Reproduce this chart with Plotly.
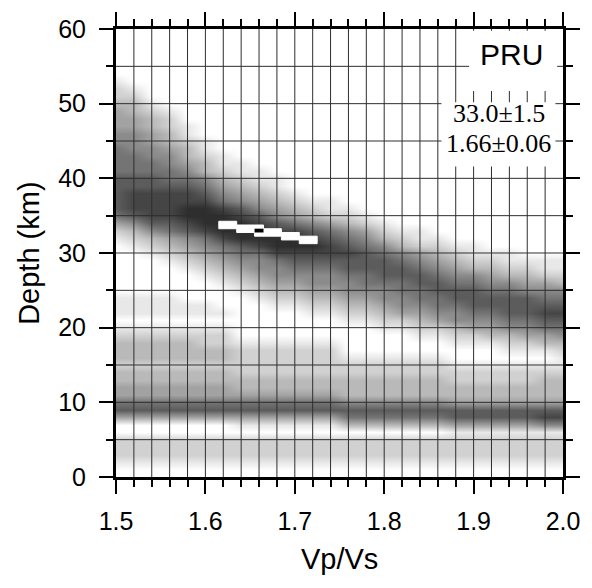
import plotly.graph_objects as go

# ---------------- data ----------------
VPVS = [1.50, 1.52, 1.54, 1.56, 1.58, 1.60, 1.62, 1.64, 1.66, 1.68, 1.70, 1.72, 1.74,
        1.76, 1.78, 1.80, 1.82, 1.84, 1.86, 1.88, 1.90, 1.92, 1.94, 1.96, 1.98, 2.00]
DEPTH_KM = list(range(0, 61))

# stack amplitude (grey level 0..9) of the main (Moho) band, one dict per Vp/Vs column: {depth: level}
MAIN_BAND = [
    {53:1,52:2,51:2,50:3,49:4,48:4,47:4,46:5,45:5,44:6,43:6,42:6,41:6,40:7,39:7,38:7,37:7,36:7,35:6,34:4,33:2,32:1},
    {52:1,51:2,50:3,49:3,48:4,47:4,46:5,45:5,44:5,43:6,42:6,41:6,40:7,39:7,38:8,37:8,36:8,35:7,34:5,33:3,32:2,31:1},
    {50:1,49:2,48:3,47:3,46:4,45:4,44:5,43:5,42:6,41:6,40:7,39:7,38:8,37:8,36:8,35:8,34:7,33:5,32:3,31:2,30:1},
    {49:1,48:2,47:2,46:3,45:3,44:4,43:5,42:5,41:6,40:6,39:7,38:8,37:8,36:8,35:8,34:7,33:6,32:4,31:3,30:2,29:1},
    {47:1,46:1,45:2,44:3,43:3,42:4,41:5,40:6,39:7,38:8,37:8,36:9,35:9,34:8,33:7,32:5,31:4,30:3,29:2,28:1},
    {45:1,44:1,43:2,42:3,41:3,40:5,39:6,38:7,37:8,36:9,35:9,34:9,33:8,32:6,31:5,30:4,29:3,28:2,27:1},
    {43:1,42:1,41:2,40:3,39:4,38:5,37:6,36:8,35:9,34:9,33:9,32:8,31:6,30:5,29:4,28:3,27:2,26:1},
    {42:1,41:1,40:2,39:3,38:4,37:5,36:7,35:8,34:9,33:9,32:9,31:7,30:6,29:5,28:4,27:3,26:2,25:1},
    {41:1,40:1,39:2,38:3,37:4,36:5,35:7,34:8,33:9,32:9,31:8,30:6,29:5,28:5,27:4,26:3,25:2,24:1},
    {40:1,39:1,38:2,37:3,36:4,35:5,34:7,33:8,32:9,31:9,30:8,29:6,28:5,27:5,26:4,25:3,24:2,23:1},
    {38:1,37:2,36:3,35:4,34:6,33:8,32:9,31:9,30:8,29:7,28:6,27:5,26:4,25:3,24:2,23:1},
    {37:1,36:2,35:3,34:5,33:7,32:8,31:9,30:8,29:7,28:6,27:5,26:5,25:4,24:3,23:2,22:1},
    {37:1,36:1,35:2,34:4,33:6,32:7,31:8,30:8,29:7,28:6,27:5,26:5,25:4,24:3,23:2,22:1},
    {36:1,35:2,34:3,33:5,32:6,31:7,30:8,29:7,28:7,27:6,26:5,25:5,24:4,23:3,22:2,21:1},
    {35:1,34:2,33:4,32:5,31:6,30:7,29:7,28:7,27:6,26:6,25:5,24:4,23:3,22:2,21:1},
    {34:1,33:2,32:3,31:5,30:6,29:7,28:7,27:7,26:6,25:5,24:5,23:4,22:3,21:2,20:1},
    {33:1,32:2,31:3,30:5,29:6,28:7,27:7,26:6,25:6,24:5,23:5,22:4,21:2,20:1},
    {33:1,32:1,31:2,30:4,29:5,28:6,27:7,26:7,25:6,24:6,23:5,22:4,21:3,20:2,19:1},
    {32:1,31:2,30:3,29:4,28:5,27:6,26:7,25:7,24:6,23:6,22:5,21:4,20:2,19:1},
    {31:1,30:2,29:3,28:4,27:5,26:6,25:7,24:7,23:6,22:5,21:5,20:3,19:2,18:1},
    {31:1,30:1,29:2,28:3,27:5,26:6,25:7,24:7,23:7,22:6,21:5,20:4,19:2,18:1},
    {30:1,29:2,28:3,27:4,26:5,25:6,24:7,23:7,22:6,21:5,20:4,19:3,18:1},
    {30:1,29:1,28:2,27:3,26:5,25:6,24:7,23:7,22:7,21:6,20:5,19:3,18:2,17:1},
    {29:1,28:2,27:3,26:4,25:5,24:7,23:7,22:7,21:6,20:5,19:4,18:2,17:1},
    {29:1,28:1,27:2,26:4,25:5,24:6,23:7,22:8,21:7,20:6,19:4,18:3,17:1},
    {29:1,28:1,27:2,26:3,25:5,24:6,23:7,22:8,21:7,20:6,19:5,18:3,17:2,16:1},
]

# shallow bands (grey level 0..9) {depth: level}
LOWER_LEFT = {24:1,23:1,22:1,20:1,19:2,18:3,17:3,16:3,15:2,14:3,13:3,12:4,11:4,10:6,9:7,8:4,5:2,4:2,3:2,2:1}
LOWER_C158 = {23:1,22:1,20:1,19:2,18:3,17:3,16:3,15:2,14:3,13:3,12:4,11:4,10:6,9:7,8:4,5:2,4:2,3:2,2:1}
LOWER_C160 = {23:1,22:1,20:1,19:2,18:2,17:3,16:3,15:2,14:3,13:3,12:4,11:4,10:6,9:7,8:4,5:2,4:2,3:2,2:1}
LOWER_C162 = {22:1,20:1,19:2,18:2,17:3,16:3,15:2,14:3,13:3,12:4,11:4,10:6,9:7,8:4,5:2,4:2,3:2,2:1}
LOWER_MID = {18:1,17:2,16:2,15:2,14:2,13:3,12:3,11:4,10:6,9:7,8:4,7:1,5:2,4:2,3:2,2:1}
LOWER_R1 = {16:1,15:2,14:2,13:3,12:3,11:3,10:5,9:7,8:6,7:3,5:2,4:2,3:2,2:1}
LOWER_R2 = {15:1,14:2,13:2,12:3,11:3,10:4,9:7,8:7,7:4,6:1,5:2,4:2,3:2,2:1}
LOWER_R3 = {15:1,14:2,13:3,12:3,11:3,10:4,9:7,8:8,7:5,6:1,5:2,4:2,3:2,2:1}
LOWER_BY_COLUMN = ([LOWER_LEFT] * 4 + [LOWER_C158, LOWER_C160, LOWER_C162] +
                   [LOWER_MID] * 6 + [LOWER_R1] * 6 + [LOWER_R2] * 5 + [LOWER_R3] * 2)

# maximum region (white cells, 0.01 x 0.5 km) and best estimate
MAX_REGION_VPVS = [1.62, 1.62, 1.63, 1.63, 1.64, 1.64, 1.65, 1.65, 1.66, 1.66, 1.67, 1.67,
                   1.68, 1.68, 1.69, 1.69, 1.70, 1.70, 1.71, 1.71, 1.72, 1.72]
MAX_REGION_DEPTH = [34.0, 33.5, 34.0, 33.5, 33.5, 33.0, 33.5, 33.0, 33.5, 32.5, 33.0, 32.5,
                    33.0, 32.5, 32.5, 32.0, 32.5, 32.0, 32.0, 31.5, 32.0, 31.5]
BEST_DEPTH, DEPTH_ERR = 33.0, 1.5
BEST_VPVS, VPVS_ERR = 1.66, 0.06
STATION = "PRU"

X_TICKS = [1.5, 1.6, 1.7, 1.8, 1.9, 2.0]
Y_TICKS = [0, 10, 20, 30, 40, 50, 60]

# ---------------- figure ----------------
z = [[max(MAIN_BAND[c].get(h, 0), LOWER_BY_COLUMN[c].get(h, 0)) for c in range(len(VPVS))]
     for h in DEPTH_KM]

fig = go.Figure()
fig.add_trace(go.Heatmap(
    x=VPVS, y=DEPTH_KM, z=z, zmin=0, zmax=9, zsmooth="best",
    colorscale=[[0, "rgb(255,255,255)"], [1, "rgb(46,46,46)"]],
    showscale=False, hoverinfo="skip"))

shapes = []
grid_k = [round(1.5 + 0.02 * i, 2) for i in range(1, 25)]
grid_h = [5 * i for i in range(1, 12)]
for g in grid_k:
    shapes.append(dict(type="line", xref="x", yref="y", x0=g, x1=g, y0=0, y1=60,
                       line=dict(color="#2e2e2e", width=1), layer="above"))
for g in grid_h:
    shapes.append(dict(type="line", xref="x", yref="y", x0=1.5, x1=2.0, y0=g, y1=g,
                       line=dict(color="#2e2e2e", width=1), layer="above"))

# max-region cells drawn on top of the grid
CELL_W, CELL_H = 0.01, 0.5
for k, h in zip(MAX_REGION_VPVS, MAX_REGION_DEPTH):
    shapes.append(dict(type="rect", xref="x", yref="y",
                       x0=k - CELL_W / 2, x1=k + CELL_W / 2, y0=h - CELL_H / 2, y1=h + CELL_H / 2,
                       fillcolor="white", line=dict(color="white", width=1), layer="above"))
shapes.append(dict(type="rect", xref="x", yref="y",
                   x0=BEST_VPVS - CELL_W / 2, x1=BEST_VPVS + CELL_W / 2,
                   y0=BEST_DEPTH - CELL_H / 2, y1=BEST_DEPTH + CELL_H / 2,
                   fillcolor="black", line=dict(width=0), layer="above"))

# white label boxes
shapes.append(dict(type="rect", xref="x", yref="y", x0=1.895, x1=1.9935, y0=51.7, y1=59.75,
                   fillcolor="white", line=dict(width=0), layer="above"))
shapes.append(dict(type="rect", xref="x", yref="y", x0=1.864, x1=1.9915, y0=41.6, y1=50.2,
                   fillcolor="white", line=dict(width=0), layer="above"))

sans = "Liberation Sans, Arial, Helvetica, sans-serif"
serif = "Liberation Serif, Times New Roman, serif"

annotations = [
    dict(text=STATION, x=1.9426, y=56.6, xref="x", yref="y", showarrow=False,
         font=dict(family=sans, size=30, color="black"), xanchor="center", yanchor="middle"),
    dict(text=f"{BEST_DEPTH:.1f}±{DEPTH_ERR:.1f}", x=1.928, y=48.7, xref="x", yref="y",
         showarrow=False, font=dict(family=serif, size=26, color="black"),
         xanchor="center", yanchor="middle"),
    dict(text=f"{BEST_VPVS:.2f}±{VPVS_ERR:.2f}", x=1.928, y=44.6, xref="x", yref="y",
         showarrow=False, font=dict(family=serif, size=26, color="black"),
         xanchor="center", yanchor="middle"),
    dict(text="Vp/Vs", x=0.5, y=-0.183, xref="paper", yref="paper", showarrow=False,
         font=dict(family=sans, size=29, color="black"), xanchor="center", yanchor="middle"),
    dict(text="Depth (km)", x=-0.195, y=0.5, xref="paper", yref="paper", showarrow=False,
         textangle=-90, font=dict(family=sans, size=29, color="black"),
         xanchor="center", yanchor="middle"),
]

axis_common = dict(
    showline=True, linewidth=3, linecolor="black", mirror="ticks",
    ticks="outside", ticklen=14, tickwidth=1.5, tickcolor="black",
    showgrid=False, zeroline=False,
    tickfont=dict(family=sans, size=25, color="black"),
)

fig.update_layout(
    width=592, height=588,
    margin=dict(l=116, r=25, t=23, b=111),
    paper_bgcolor="white", plot_bgcolor="white",
    shapes=shapes, annotations=annotations,
    xaxis=dict(range=[1.5, 2.0], tickmode="array", tickvals=X_TICKS,
               ticktext=[f"{v:.1f}" for v in X_TICKS],
               minor=dict(dtick=0.02, tick0=1.5, ticks="outside", ticklen=7, tickwidth=1.5,
                          tickcolor="black", showgrid=False),
               ticklabelstandoff=6, **axis_common),
    yaxis=dict(range=[0, 60], tickmode="array", tickvals=Y_TICKS,
               ticktext=[str(v) for v in Y_TICKS],
               minor=dict(dtick=5, tick0=0, ticks="outside", ticklen=7, tickwidth=1.5,
                          tickcolor="black", showgrid=False),
               ticklabelstandoff=8, **axis_common),
    showlegend=False,
)

fig.write_html("out.html")
